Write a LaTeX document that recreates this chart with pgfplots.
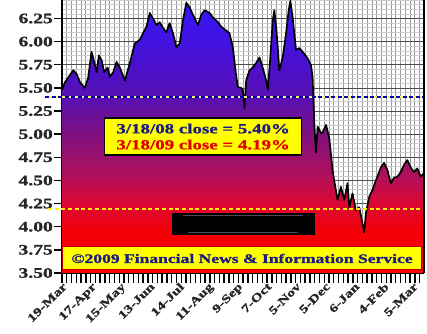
\documentclass[border=0pt]{standalone}
\usepackage{pgfplots}
\pgfplotsset{compat=1.18}
\usepackage{pgfplotstable}
\usepackage{fontspec}
\setmainfont{Liberation Serif}
\newfontfamily\cf{Liberation Serif}[UprightFont=* Bold, FakeStretch=1.35, FakeBold=1.2]
\definecolor{c0}{HTML}{FF0000}
\definecolor{c1}{HTML}{F40008}
\definecolor{c2}{HTML}{D80838}
\definecolor{c3}{HTML}{B0105A}
\definecolor{c4}{HTML}{801080}
\definecolor{c5}{HTML}{5A10B0}
\definecolor{c6}{HTML}{4810D0}
\definecolor{c7}{HTML}{3C14F0}
\definecolor{c8}{HTML}{3010FF}
\definecolor{navy}{HTML}{1C1C80}
\definecolor{boxyellow}{HTML}{FFFF00}
\pgfdeclareverticalshading{rates}{100bp}{color(0bp)=(c0); color(25bp)=(c0); color(32.8bp)=(c1); color(38.3bp)=(c2); color(42.9bp)=(c3); color(50.5bp)=(c4); color(56.8bp)=(c5); color(64.1bp)=(c6); color(71.4bp)=(c7); color(75bp)=(c8); color(100bp)=(c8)}
\pgfplotstableread{
day val
0 5.48
2 5.56
5.5 5.64
7.7 5.69
10 5.65
12.3 5.56
15.7 5.50
17.9 5.61
20.2 5.89
22 5.78
23.7 5.67
25.2 5.85
27.1 5.80
28.8 5.67
31.2 5.72
32.7 5.62
35 5.67
37.3 5.78
39.5 5.72
43 5.58
46.4 5.77
49.8 5.98
53.2 6.02
55.4 6.09
57.7 6.16
60 6.31
62.2 6.25
64.6 6.18
66.8 6.21
69 6.15
71.3 6.10
73.6 6.20
75.9 6.09
78.2 5.94
80.5 5.98
82.7 6.23
85 6.42
87.3 6.37
89.5 6.29
92.9 6.18
95.2 6.29
97.5 6.34
100.9 6.31
103.2 6.26
106.6 6.21
108.9 6.16
112.3 6.12
114.5 6.09
116.8 5.94
118.6 5.69
120.2 5.51
122.5 5.50
123.6 5.48
124.8 5.28
125.9 5.58
128.2 5.69
130.4 5.72
132.8 5.77
135 5.83
137.2 5.72
139.6 5.58
140.7 5.48
142.3 5.80
144.1 6.23
145.2 6.34
146.8 6.09
148.6 5.69
150.9 5.83
153.2 6.09
155 6.34
156.1 6.44
157.7 6.26
160 5.91
162.3 5.93
164.5 5.89
167.9 5.82
170.2 5.75
171.3 5.62
172.5 5.12
173.6 4.80
174.8 5.08
177.1 5.01
178.2 5.02
180.5 5.10
182.7 4.96
185 4.61
186.1 4.50
188.4 4.29
190.7 4.43
193 4.29
195.2 4.47
196.4 4.21
198.6 4.36
200.9 4.18
203.2 4.21
205.4 4.04
206.6 3.94
207.8 4.15
210 4.32
212.3 4.40
214.6 4.50
218 4.64
220.2 4.69
222.5 4.61
224.8 4.47
227 4.53
229.3 4.54
231.6 4.59
233.9 4.67
236.1 4.72
238.4 4.64
240.7 4.59
242.9 4.63
245.3 4.54
247.5 4.58
}\rates
\begin{document}
\begin{tikzpicture}
\begin{axis}[
  at={(62bp,61bp)}, anchor=south west,
  scale only axis, width=362bp, height=273bp,
  xmin=0, xmax=247.5, ymin=3.5, ymax=6.45,
  clip=false,
  axis x line*=bottom, axis y line*=left,
  axis line style={black, line width=1.6bp},
  tick align=outside,
  xtick={0,20,...,240},
  xticklabels={19-Mar,17-Apr,15-May,13-Jun,14-Jul,11-Aug,9-Sep,7-Oct,5-Nov,5-Dec,6-Jan,4-Feb,5-Mar},
  minor xtick={0,3.26,...,247.5},
  ytick={3.5,3.75,4,4.25,4.5,4.75,5,5.25,5.5,5.75,6,6.25},
  yticklabels={3.50,3.75,4.00,4.25,4.50,4.75,5.00,5.25,5.50,5.75,6.00,6.25},
  minor ytick={3.55,3.6,...,6.45},
  major tick length=8bp, minor tick length=10bp,
  every major x tick/.style={draw=none},
  every minor y tick/.style={draw=none},
  every minor x tick/.style={black, line width=1.4bp},
  every major y tick/.style={black, line width=1.4bp},
  ymajorgrids, yminorgrids, xminorgrids, xmajorgrids=false,
  major grid style={color=black!70, line width=0.8bp},
  minor y grid style={color=black!20, line width=0.6bp},
  minor x grid style={color=black!40, line width=0.8bp},
  yticklabel style={font=\cf\fontsize{14.5bp}{16bp}\selectfont, text=black!85, inner sep=1bp},
  xticklabel style={font=\cf\fontsize{11.5bp}{13bp}\selectfont, text=black!85, rotate=45, anchor=north east, inner sep=0.5bp},
]
\addplot[shade, shading=rates, draw=none] table[x=day,y=val] {\rates} \closedcycle;
\addplot[black, line width=1.7bp, line join=round] table[x=day,y=val] {\rates};
\addplot[color=yellow!60!white, line width=1.4bp] coordinates {(-11.6,5.40) (247.5,5.40)};
\addplot[color=blue!70!black, line width=1.6bp, dash pattern=on 4bp off 2.5bp] coordinates {(-11.6,5.40) (247.5,5.40)};
\addplot[color=yellow, line width=1.6bp, dash pattern=on 4bp off 2.7bp] coordinates {(-9.6,4.19) (247.5,4.19)};
\draw[black, line width=1.6bp] (rel axis cs:1,0) -- (rel axis cs:1,1);
\node[fill=boxyellow, draw=black, line width=1.2bp, minimum width=197bp, minimum height=37bp, inner sep=0pt, align=center, font=\cf\fontsize{14bp}{16bp}\selectfont] at (axis cs:96.5,4.974) {\textcolor{navy}{3/18/08 close = 5.40\%}\\\textcolor{red!90!black}{3/18/09 close = 4.19\%}};
\node[fill=black, minimum width=143bp, minimum height=22bp, inner sep=0pt, align=center] at (axis cs:123.75,4.029) {\textcolor{black!70}{\rule{120bp}{1bp}}\\[5bp]\textcolor{black!70}{\rule{110bp}{1bp}}};
\node[fill=boxyellow, draw=red!75!black, line width=1bp, minimum width=359bp, minimum height=23bp, inner sep=0pt, font=\cf\fontsize{13bp}{15bp}\selectfont, text=navy] at (axis cs:123.1,3.657) {\textcopyright 2009 Financial News \& Information Service};
\end{axis}
\pgfresetboundingbox
\path[use as bounding box] (0,0) rectangle (427bp,334bp);
\end{tikzpicture}
\end{document}
